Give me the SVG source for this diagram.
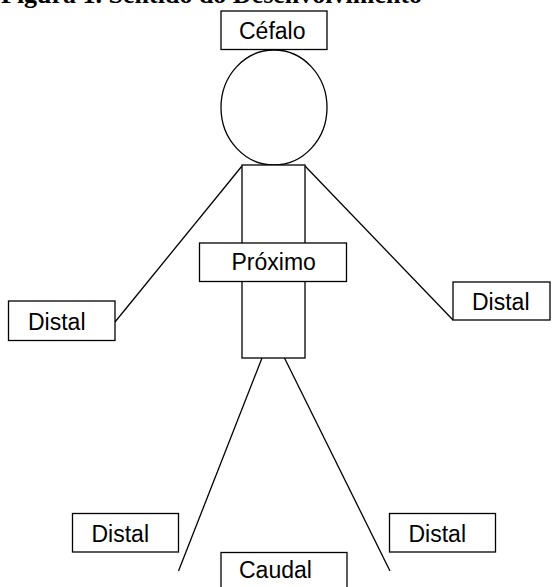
<svg xmlns="http://www.w3.org/2000/svg" width="552" height="587" viewBox="0 0 552 587">
  <style>
    .box { fill: #ffffff; stroke: #000000; stroke-width: 1.3; }
    .lbl { font-family: "Liberation Sans", Arial, sans-serif; font-size: 23px; fill: #000000; }
    .line { fill: none; stroke: #000000; stroke-width: 1.3; }
    .title { font-family: "Liberation Serif", "Times New Roman", serif; font-size: 26px; font-weight: bold; fill: #000000; }
  </style>
  <rect width="552" height="587" fill="#ffffff"/>
  <text class="title" x="1" y="3">Figura 1. Sentido do Desenvolvimento</text>

  <g id="connectors">
    <line class="line" x1="242" y1="166" x2="115" y2="322"/>
    <line class="line" x1="305" y1="166" x2="453" y2="320"/>
    <line class="line" x1="262" y1="358" x2="178.5" y2="571"/>
    <line class="line" x1="284.5" y1="358" x2="390" y2="571"/>
  </g>

  <g id="head">
    <ellipse class="box" cx="274" cy="107.5" rx="53" ry="57.5"/>
  </g>
  <g id="torso">
    <rect class="box" x="242" y="165" width="63" height="193"/>
  </g>

  <g id="cefalo">
    <rect class="box" x="221" y="11" width="106" height="38.5"/>
    <text class="lbl" x="239" y="38.5">Céfalo</text>
  </g>
  <g id="proximo">
    <rect class="box" x="199.5" y="243" width="147" height="38.5"/>
    <text class="lbl" x="231.5" y="269.5">Próximo</text>
  </g>
  <g id="distal-left">
    <rect class="box" x="8.5" y="301" width="106.5" height="39.5"/>
    <text class="lbl" x="28" y="329.5">Distal</text>
  </g>
  <g id="distal-right">
    <rect class="box" x="453" y="282" width="97" height="38"/>
    <text class="lbl" x="472" y="309.5">Distal</text>
  </g>
  <g id="distal-bottom-left">
    <rect class="box" x="72.5" y="513.5" width="106" height="38.5"/>
    <text class="lbl" x="91.5" y="541.5">Distal</text>
  </g>
  <g id="distal-bottom-right">
    <rect class="box" x="389.5" y="513.5" width="106" height="38.5"/>
    <text class="lbl" x="408.5" y="541.5">Distal</text>
  </g>
  <g id="caudal">
    <rect class="box" x="221" y="552.5" width="126" height="50"/>
    <text class="lbl" x="239" y="577.5">Caudal</text>
  </g>
</svg>
